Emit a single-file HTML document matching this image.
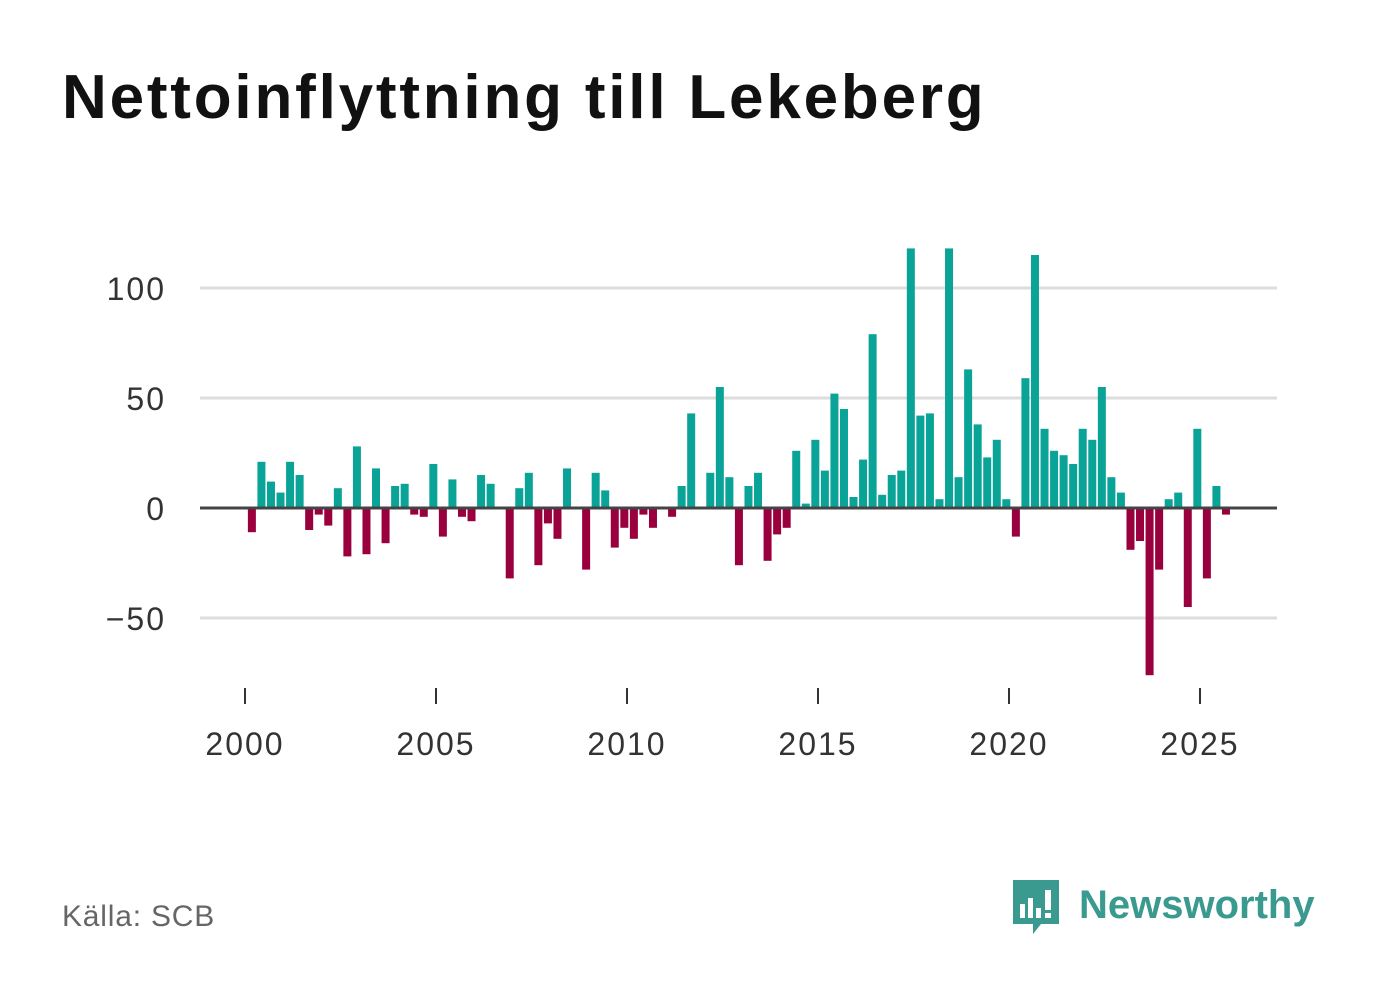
<!DOCTYPE html>
<html><head><meta charset="utf-8">
<style>
body{margin:0;background:#fff;font-family:"Liberation Sans","DejaVu Sans",sans-serif;}
#wrap{position:relative;width:1382px;height:999px;overflow:hidden;}
h1{position:absolute;left:62px;top:62px;margin:0;font-size:62px;font-weight:bold;color:#111;letter-spacing:2.8px;}
#src{position:absolute;left:62px;top:900px;font-size:30px;color:#666;letter-spacing:0.8px;}
</style></head><body>
<div id="wrap">
<h1>Nettoinflyttning till Lekeberg</h1>
<svg id="chart" width="1382" height="999" style="position:absolute;left:0;top:0"></svg>
<div id="src">Källa: SCB</div>
<svg width="320" height="80" style="position:absolute;left:1005px;top:870px">
<path d="M8 10 h46 v44 h-18 l-8 10 v-10 h-20 z" fill="#3a9a8f"/>
<rect x="15" y="34" width="5" height="14" fill="#fff"/><rect x="23" y="28" width="5" height="20" fill="#fff"/><rect x="31" y="38" width="5" height="10" fill="#fff"/><rect x="40" y="20" width="6" height="20" fill="#fff"/><rect x="40" y="43" width="6" height="5" fill="#fff"/>
<text x="74" y="48" font-size="40" font-weight="bold" fill="#3a9a8f" font-family="Liberation Sans, sans-serif">Newsworthy</text>
</svg>
</div>
<script>
const values = [-11,21,12,7,21,15,-10,-3,-8,9,-22,28,-21,18,-16,10,11,-3,-4,20,-13,13,-4,-6,15,11,0,-32,9,16,-26,-7,-14,18,0,-28,16,8,-18,-9,-14,-3,-9,0,-4,10,43,0,16,55,14,-26,10,16,-24,-12,-9,26,2,31,17,52,45,5,22,79,6,15,17,118,42,43,4,118,14,63,38,23,31,4,-13,59,115,36,26,24,20,36,31,55,14,7,-19,-15,-76,-28,4,7,-45,36,-32,10,-3];
const startYear = 2000;
const yTicks = [-50,0,50,100];
const xTicks = [2000,2005,2010,2015,2020,2025];
const NS="http://www.w3.org/2000/svg";
const svg=document.getElementById('chart');
const x0=245, pxYear=38.2, y0=508, pxUnit=2.2, left=200, right=1277;
const xs=t=>x0+(t-2000)*pxYear;
const ys=v=>y0-v*pxUnit;
function mk(tag,attrs){const e=document.createElementNS(NS,tag);for(const k in attrs)e.setAttribute(k,attrs[k]);svg.appendChild(e);return e;}
yTicks.forEach(v=>{
  if(v!==0){const l=mk('line',{x1:left,x2:right,y1:ys(v),y2:ys(v),stroke:'#dddddd','stroke-width':3});
  
  }
  const t=mk('text',{x:166,y:ys(v)+12,'text-anchor':'end','font-size':32,'letter-spacing':2,fill:'#333','font-family':'Liberation Sans, sans-serif'});
  t.textContent=v<0?'\u2212'+Math.abs(v):v;
  
  
});
values.forEach((v,i)=>{
  const cx=xs(startYear+i/4+0.18);
  const top=v>=0?ys(v):y0, h=Math.abs(v)*pxUnit;
  const r=mk('rect',{x:cx-4,y:top,width:8,height:h,fill:v>=0?'#0aa398':'#99003d'});
  
  
});
const z=mk('line',{x1:left,x2:right,y1:y0,y2:y0,stroke:'#444','stroke-width':3});


xTicks.forEach(yr=>{
  const tk=mk('line',{x1:xs(yr),x2:xs(yr),y1:688,y2:704,stroke:'#333','stroke-width':2});
  
  
  const t=mk('text',{x:xs(yr),y:755,'text-anchor':'middle','font-size':32,'letter-spacing':2,fill:'#333','font-family':'Liberation Sans, sans-serif'});
  t.textContent=yr;
  
  
});
</script>
</body></html>
